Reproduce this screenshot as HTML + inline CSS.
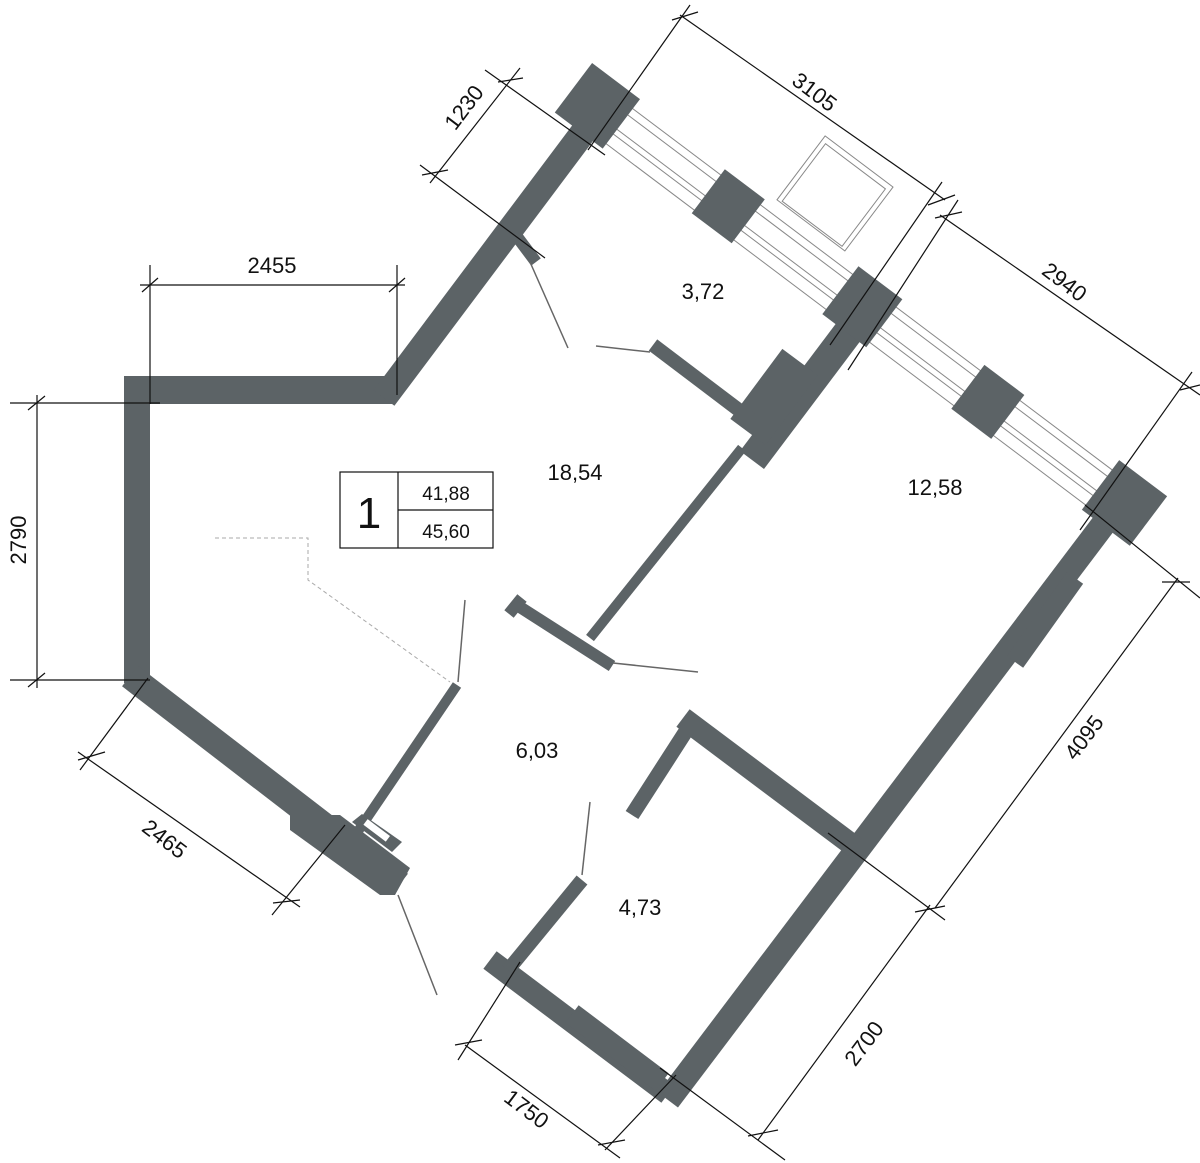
<!DOCTYPE html>
<html><head><meta charset="utf-8"><style>
html,body{margin:0;padding:0;background:#fff;}
svg{display:block;}
text{font-family:"Liberation Sans",sans-serif;fill:#111;}
</style></head><body>
<svg width="1200" height="1163" viewBox="0 0 1200 1163" xmlns="http://www.w3.org/2000/svg">
<g stroke="#5c6366" fill="none" stroke-linecap="butt">
<polyline points="137,378 137,683" stroke-width="26"/>
<line x1="124" y1="390" x2="392" y2="390" stroke-width="28"/>
<line x1="384" y1="398" x2="600" y2="110" stroke-width="26"/>
<line x1="130" y1="676" x2="400" y2="884" stroke-width="26"/>
<line x1="518" y1="238" x2="536" y2="262" stroke-width="12"/>
<line x1="880" y1="290" x2="752" y2="460" stroke-width="30"/>
<line x1="800" y1="362" x2="748" y2="432" stroke-width="44"/>
<line x1="742" y1="448" x2="590" y2="638" stroke-width="10"/>
<line x1="653" y1="345" x2="752" y2="420" stroke-width="14"/>
<line x1="1118" y1="505" x2="668" y2="1100" stroke-width="25"/>
<line x1="1075" y1="578" x2="1015" y2="662" stroke-width="20"/>
<line x1="512" y1="602" x2="612" y2="666" stroke-width="12"/>
<line x1="509" y1="614" x2="522" y2="598" stroke-width="12"/>
<line x1="683" y1="718" x2="855" y2="847" stroke-width="22"/>
<line x1="688" y1="728" x2="632" y2="815" stroke-width="15"/>
<line x1="490" y1="960" x2="668" y2="1094" stroke-width="22"/>
<line x1="572" y1="1014" x2="662" y2="1082" stroke-width="22"/>
<line x1="582" y1="880" x2="508" y2="970" stroke-width="14"/>
<line x1="457" y1="685" x2="352" y2="840" stroke-width="10"/>
</g>
<g fill="#5c6366">
<polygon points="290,815 340,815 410,868 395,895 380,895 290,830"/>
<polygon points="352,822 362,814 402,842 392,852"/>
</g>
<rect x="363" y="827" width="28" height="7" fill="#fff" transform="rotate(37 377 830)"/>
<g transform="translate(598,105) rotate(37)" stroke="#888" stroke-width="1" fill="none">
<line x1="0" y1="-18" x2="655" y2="-18"/>
<line x1="0" y1="-10" x2="655" y2="-10"/>
<line x1="0" y1="8" x2="655" y2="8"/>
<line x1="0" y1="14" x2="655" y2="14"/>
<line x1="0" y1="26" x2="655" y2="26"/>
<rect x="200" y="-112" width="85" height="80"/>
<rect x="205" y="-106" width="75" height="72"/>
<g fill="#5c6366" stroke="none">
<rect x="-30" y="-30" width="60" height="62"/>
<rect x="140" y="-25" width="50" height="55"/>
<rect x="305" y="-28" width="55" height="60"/>
<rect x="465" y="-25" width="50" height="55"/>
<rect x="630" y="-30" width="60" height="62"/>
</g>
</g>
<g stroke="#666" stroke-width="1.5" fill="none">
<line x1="530" y1="262" x2="568" y2="348"/>
<line x1="596" y1="346" x2="650" y2="352"/>
<line x1="458" y1="682" x2="465" y2="600"/>
<line x1="613" y1="663" x2="698" y2="672"/>
<line x1="582" y1="875" x2="590" y2="802"/>
<line x1="398" y1="895" x2="437" y2="995"/>
</g>
<polyline points="215,538 308,538 308,580 450,682" fill="none" stroke="#aaa" stroke-width="1" stroke-dasharray="4,3"/>
<g stroke="#111" stroke-width="1.2" fill="none">
<line x1="150" y1="265" x2="150" y2="404"/>
<line x1="397" y1="265" x2="397" y2="395"/>
<line x1="140" y1="285" x2="405" y2="285"/>
<line x1="142" y1="292" x2="158" y2="278"/><line x1="389" y1="292" x2="405" y2="278"/>
<line x1="10" y1="403" x2="160" y2="403"/>
<line x1="10" y1="680" x2="150" y2="680"/>
<line x1="37" y1="395" x2="37" y2="688"/>
<line x1="28" y1="410" x2="45" y2="396"/><line x1="28" y1="687" x2="45" y2="673"/>
<line x1="148" y1="678" x2="80" y2="770"/>
<line x1="345" y1="825" x2="272" y2="915"/>
<line x1="78" y1="752" x2="300" y2="907"/>
<line x1="78" y1="760" x2="105" y2="752"/><line x1="273" y1="903" x2="300" y2="900"/>
<line x1="420" y1="165" x2="545" y2="258"/>
<line x1="485" y1="70" x2="605" y2="155"/>
<line x1="430" y1="183" x2="520" y2="68"/>
<line x1="422" y1="175" x2="448" y2="170"/><line x1="498" y1="82" x2="523" y2="78"/>
<line x1="690" y1="5" x2="588" y2="150"/>
<line x1="680" y1="15" x2="945" y2="200"/>
<line x1="942" y1="182" x2="830" y2="345"/>
<line x1="672" y1="20" x2="698" y2="12"/><line x1="928" y1="205" x2="955" y2="195"/>
<line x1="958" y1="200" x2="848" y2="370"/>
<line x1="940" y1="215" x2="1200" y2="395"/>
<line x1="1192" y1="372" x2="1080" y2="530"/>
<line x1="935" y1="218" x2="962" y2="212"/><line x1="1180" y1="390" x2="1200" y2="385"/>
<line x1="1085" y1="505" x2="1200" y2="598"/>
<line x1="1178" y1="578" x2="935" y2="908"/>
<line x1="828" y1="833" x2="945" y2="920"/>
<line x1="1162" y1="582" x2="1190" y2="582"/>
<line x1="930" y1="905" x2="758" y2="1140"/>
<line x1="915" y1="912" x2="945" y2="906"/>
<line x1="748" y1="1136" x2="778" y2="1130"/>
<line x1="660" y1="1068" x2="785" y2="1160"/>
<line x1="520" y1="962" x2="458" y2="1060"/>
<line x1="465" y1="1045" x2="620" y2="1158"/>
<line x1="676" y1="1075" x2="605" y2="1150"/>
<line x1="455" y1="1045" x2="482" y2="1040"/><line x1="598" y1="1145" x2="625" y2="1140"/>
</g>
<g font-size="22">
<text x="272" y="273" text-anchor="middle">2455</text>
<text transform="translate(26,540) rotate(-90)" text-anchor="middle">2790</text>
<text transform="translate(160,845) rotate(37)" text-anchor="middle">2465</text>
<text transform="translate(470,112) rotate(-53)" text-anchor="middle">1230</text>
<text transform="translate(810,98) rotate(37)" text-anchor="middle">3105</text>
<text transform="translate(1060,288) rotate(37)" text-anchor="middle">2940</text>
<text transform="translate(1090,742) rotate(-53)" text-anchor="middle">4095</text>
<text transform="translate(870,1048) rotate(-53)" text-anchor="middle">2700</text>
<text transform="translate(522,1115) rotate(37)" text-anchor="middle">1750</text>
<text x="703" y="299" text-anchor="middle">3,72</text>
<text x="575" y="480" text-anchor="middle">18,54</text>
<text x="935" y="495" text-anchor="middle">12,58</text>
<text x="537" y="758" text-anchor="middle">6,03</text>
<text x="640" y="915" text-anchor="middle">4,73</text>
</g>
<g stroke="#111" stroke-width="1.2" fill="none">
<rect x="340" y="472" width="153" height="76"/>
<line x1="398" y1="472" x2="398" y2="548"/>
<line x1="398" y1="510" x2="493" y2="510"/>
</g>
<text x="369" y="528" font-size="44" text-anchor="middle">1</text>
<text x="446" y="500" font-size="19" text-anchor="middle">41,88</text>
<text x="446" y="538" font-size="19" text-anchor="middle">45,60</text>
</svg>
</body></html>
